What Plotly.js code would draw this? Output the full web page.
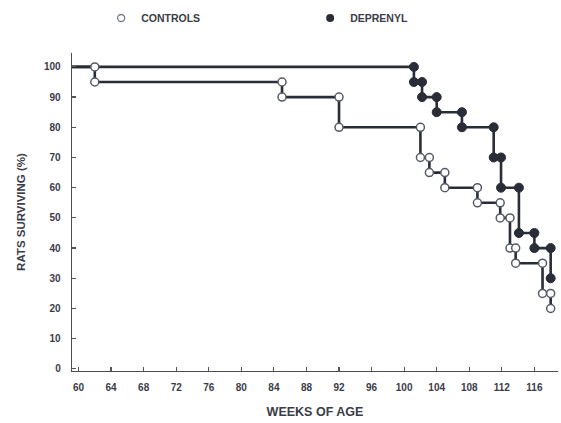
<!DOCTYPE html>
<html>
<head>
<meta charset="utf-8">
<script src="https://cdn.plot.ly/plotly-3.0.1.min.js"></script>
<style>
  html, body { margin: 0; padding: 0; background: #ffffff; }
  #chart { width: 561px; height: 423px; }
</style>
</head>
<body>
<div id="chart"></div>
<script>
// Survival data (weeks of age at each death, % surviving after it)
const startWeek = 59.2;
const startSurvival = 100;
const controlWeeks = [62, 85, 92, 102, 103.1, 105, 109, 111.8, 113, 113.7, 117, 118];
const controlSurvival = [95, 90, 80, 70, 65, 60, 55, 50, 40, 35, 25, 20];
const deprenylWeeks = [101.2, 102.2, 104, 107.1, 111, 111.9, 114.1, 116, 118];
const deprenylSurvival = [95, 90, 85, 80, 70, 60, 45, 40, 30];
const xTicks = [60, 64, 68, 72, 76, 80, 84, 88, 92, 96, 100, 104, 108, 112, 116];
const yTicks = [0, 10, 20, 30, 40, 50, 60, 70, 80, 90, 100];

const ink = '#2a2d38';
const textInk = '#3a3c48';

function stepPoints(weeks, surv) {
  const lx = [startWeek], ly = [startSurvival];
  const mx = [], my = [];
  let prev = startSurvival;
  for (let i = 0; i < weeks.length; i++) {
    lx.push(weeks[i], weeks[i]);
    ly.push(prev, surv[i]);
    mx.push(weeks[i], weeks[i]);
    my.push(prev, surv[i]);
    prev = surv[i];
  }
  return {lx, ly, mx, my};
}

const c = stepPoints(controlWeeks, controlSurvival);
const d = stepPoints(deprenylWeeks, deprenylSurvival);

const lineStyle = {color: ink, width: 2.6};

const traces = [
  {x: c.lx, y: c.ly, mode: 'lines', line: lineStyle, showlegend: false, hoverinfo: 'skip'},
  {x: d.lx, y: d.ly, mode: 'lines', line: lineStyle, showlegend: false, hoverinfo: 'skip'},
  {x: c.mx, y: c.my, mode: 'markers', showlegend: false,
   marker: {symbol: 'circle', size: 8, color: '#ffffff', line: {color: '#555a66', width: 1.5}}},
  {x: d.mx, y: d.my, mode: 'markers', showlegend: false,
   marker: {symbol: 'circle', size: 9, color: ink, line: {color: ink, width: 1}}},
  {x: [null], y: [null], mode: 'markers', name: 'CONTROLS',
   marker: {symbol: 'circle', size: 7, color: '#ffffff', line: {color: '#777b86', width: 1.3}}},
  {x: [null], y: [null], mode: 'markers', name: 'DEPRENYL',
   marker: {symbol: 'circle', size: 8, color: ink}}
];

const tickFont = {family: 'Liberation Sans, Arial, sans-serif', size: 10, color: textInk, weight: 'bold'};

const layout = {
  width: 561,
  height: 423,
  paper_bgcolor: '#ffffff',
  plot_bgcolor: '#ffffff',
  margin: {l: 72, r: 3, t: 53, b: 52},
  showlegend: true,
  legend: {
    orientation: 'h',
    x: 0.06, xanchor: 'left',
    y: 1.11, yanchor: 'middle',
    entrywidth: 164, entrywidthmode: 'pixels',
    font: {family: 'Liberation Sans, Arial, sans-serif', size: 10.5, color: textInk, weight: 'bold'},
    bgcolor: 'rgba(0,0,0,0)'
  },
  xaxis: {
    range: [59.2, 118.9],
    tickmode: 'array',
    tickvals: xTicks,
    ticktext: xTicks.map(String),
    ticks: 'inside', ticklen: 4, tickwidth: 1.2, tickcolor: '#555',
    showline: true, linecolor: '#4a4d58', linewidth: 1.3,
    showgrid: false, zeroline: false,
    tickfont: tickFont,
    ticklabelstandoff: 7,
    title: {text: 'WEEKS OF AGE', standoff: 15,
            font: {family: 'Liberation Sans, Arial, sans-serif', size: 12.5, color: textInk, weight: 'bold'}}
  },
  yaxis: {
    range: [-0.7, 104.6],
    tickmode: 'array',
    tickvals: yTicks,
    ticktext: yTicks.map(String),
    ticks: 'inside', ticklen: 4, tickwidth: 1.2, tickcolor: '#555',
    showline: true, linecolor: '#4a4d58', linewidth: 1.3,
    showgrid: false, zeroline: false,
    tickfont: tickFont,
    ticklabelstandoff: 8,
    title: {text: 'RATS SURVIVING (%)', standoff: 16,
            font: {family: 'Liberation Sans, Arial, sans-serif', size: 11.5, color: textInk, weight: 'bold'}}
  }
};

Plotly.newPlot('chart', traces, layout, {displayModeBar: false, staticPlot: true});
</script>
</body>
</html>
